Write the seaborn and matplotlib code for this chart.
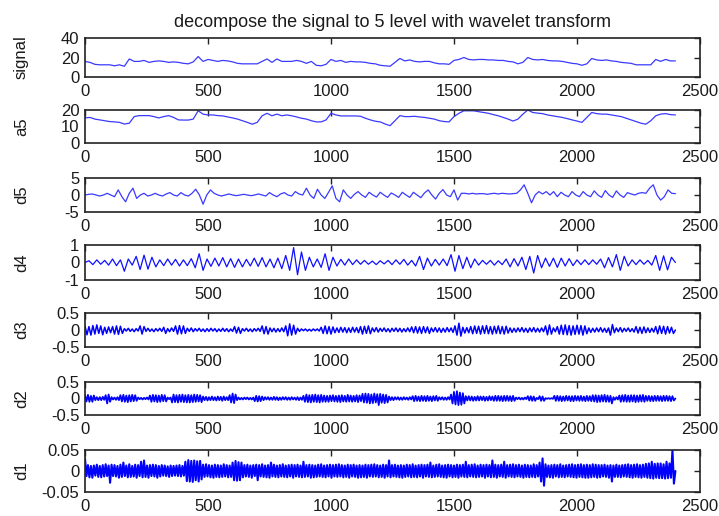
import numpy as np
import matplotlib
matplotlib.use("Agg")
import matplotlib.pyplot as plt
import seaborn as sns

sns.set_style("white")
plt.rcParams['font.family'] = ['Liberation Sans', 'DejaVu Sans']

title = "decompose the signal to 5 level with wavelet transform"
x_end = 2400
x_ticks = [0, 500, 1000, 1500, 2000, 2500]

# ---- series ----
signal_vals = [16, 15, 13, 12.5, 12.5, 12.5, 11.5, 12.5, 11, 18.5,
               16, 16, 17, 15, 16, 16.5, 16, 15, 15.5, 15,
               14, 13.5, 15.5, 21, 16, 18, 17, 16, 17, 16.5,
               15.5, 14, 13.5, 13.5, 13.5, 13.5, 16, 18.5, 15, 18.5,
               16, 16, 16, 17, 16, 14, 16, 12, 11.5, 13,
               18, 16, 17, 15, 16, 15.5, 15.5, 15, 14, 13.5,
               12, 11.5, 11, 15, 19, 16.5, 17.5, 16, 15.5, 16,
               16, 14.5, 13.5, 13.5, 13, 17, 18, 20, 18, 17.5,
               18, 18, 17.5, 17.5, 17, 17, 16, 15.5, 13.5, 15,
               20, 18, 17.5, 18, 17, 16.5, 16.5, 16, 15, 14,
               13.5, 12, 13.5, 19, 17.5, 17, 17.5, 16.5, 16, 15,
               14.5, 14, 12.5, 12.5, 12.5, 12.5, 18, 16, 18, 16.5, 16.5]

a5_vals = [15.2, 15.5, 14.5, 14, 13.5, 13, 12.8, 12.5, 11.5, 12,
           16, 16.6, 16.6, 16.6, 16, 15.2, 16, 16.6, 15.5, 14,
           13.9, 13.9, 14.5, 19.5, 17.5, 17, 17, 16.6, 16.4, 15.8,
           15.2, 14.5, 13.5, 12.5, 11.4, 12.5, 16.5, 18, 16.5, 17.5,
           16.5, 17, 16.5, 15.8, 15, 14.5, 13.5, 12.8, 12.8, 14,
           18, 17, 16.4, 16.4, 16.4, 16.4, 16.2, 15, 14, 13.2,
           12.8, 11.5, 10.5, 13.5, 16.6, 16, 16, 16.2, 15.8, 15.5,
           15, 14.5, 13.5, 13, 12.8, 16, 18, 19.5, 19.5, 19.5,
           19, 18.5, 18, 17.2, 16.5, 15.5, 14.5, 13.3, 14.5, 17.5,
           20, 18.5, 18.1, 17.8, 17, 16.5, 16, 15.5, 14.8, 14,
           13.3, 12.5, 15.5, 18.5, 17.8, 17.5, 17.5, 17, 16.5, 16,
           15, 14, 13, 12, 11.4, 13.5, 16.5, 17.5, 17.8, 17.2, 17]

d5_vals = [0, 0.2, 0.3, 0, -0.3, 0, 0.5, 0, -0.5, 1.5,
           -0.5, -2, 0.5, 2, -1, 0, 0.5, -0.3, 0, 0.5,
           0, -0.3, 0.3, 0.7, 0, -0.3, 0.7, 0, -0.3, 0.5,
           1.7, 0, -2.7, 0, 1.5, 0.5, 0, -0.3, 0, 0.3,
           0, -0.2, 0, 0.2, 0, -0.2, 0, 0.3, 0, -0.3,
           0.7, 0, -0.5, 0.3, 0.7, 0, -0.3, 1, 0.3, 0,
           2, 0, -1, 1.7, 0, -1, 0.8, 2.7, -1, -2,
           1.5, 0, -1, 0.2, 1, 0, -0.7, 0.8, 0, -0.6,
           0.8, 0, -0.7, 0.6, 0, -0.7, 0.8, 0, -0.7, 0.8,
           0, -0.8, 0.6, 1.5, 0, -1.2, 0.5, 1.6, 0, -0.5,
           1.5, -1.5, 0.5, 0.5, 0.3, 0.5, 0.3, 0.4, 0.4, 0.2,
           0.4, 0.5, 0.3, 0.5, 0.4, 0.3, 0.4, 0.5, 1.5, 3,
           0.5, -2.3, 0, 1, 0.3, 1, 0, 1, -0.5, 0.8,
           0, -0.5, 1, 0, -0.5, 1, 0, -0.5, 1.2, 0,
           -0.7, 1.3, 0, -0.7, 1.2, 0, -0.7, 0.7, 0.3, 0,
           0.5, 0.7, 0.5, 2, 3, 0, -1.5, -0.5, 1.5, 0.5, 0.4]

# d4, d3, d2 in hundredths; d1 in thousandths
d4_centi = [0, 10, -12, 15, -10, 12, -15, 20, -18, 15, -50, 20,
            -15, 35, -40, 42, -38, 30, -25, 15, -18, 20, -15, 18,
            -20, 15, -18, 22, -30, 50, -45, 20, -22, 25, -20, 28,
            -25, 22, -28, 20, -25, 18, -20, 25, -22, 28, -25, 20,
            -30, 25, -35, 40, -45, 85, -70, 60, -45, 30, -25, 20,
            -28, 50, -45, 30, -20, 18, -15, 20, -12, 15, -10, 12,
            -10, 8, -12, 10, -8, 12, -12, 15, -10, 18, -15, 12,
            -20, 35, -40, 25, -20, 18, -15, 20, -18, 45, -50, 40,
            -35, 30, -30, 20, -15, 12, -10, 12, -15, 10, -12, 20,
            -25, 22, -20, 30, -40, 35, -60, 40, -30, 25, -22, 25,
            -28, 25, -20, 22, -18, 15, -12, 15, -12, 15, -10, 20,
            -30, 28, -25, 45, -45, 35, -20, 15, -12, 15, -10, 12,
            -15, 40, -45, 38, -42, 30, 0]

d3_centi = [12, -14, 10, -15, 13, -12, 15, -10, 12, -14,
            8, -10, 9, -8, 10, -12, 12, -13, 11, -10,
            4, -3, 5, -4, 3, -5, 4, -3, 12, -12,
            10, -4, 5, -4, 3, -5, 4, -3, 5, -4,
            8, -10, 4, -5, 6, -4, 12, -12, 13, -11,
            12, -10, 5, -4, 6, -5, 4, -3, 5, -4,
            3, -5, 4, -4, 5, -3, 4, -5, 3, -4,
            5, -4, 4, -5, 3, -4, 10, -9, 8, -10,
            4, -3, 5, -4, 3, -5, 4, -3, 5, -4,
            12, -11, 10, -12, 6, -5, 5, -6, 4, -5,
            6, -5, 12, -17, 18, -15, 14, -12, 5, -4,
            3, -2, 3, -3, 2, -3, 3, -2, 3, -3,
            8, -10, 12, -11, 10, -12, 9, -8, 6, -7,
            8, -6, 7, -8, 6, -7, 8, -6, 7, -8,
            10, -12, 11, -10, 12, -11, 6, -5, 7, -6,
            5, -4, 6, -5, 4, -6, 5, -4, 6, -5,
            5, -6, 4, -5, 6, -5, 9, -8, 10, -9,
            9, -10, 10, -8, 9, -10, 6, -5, 7, -6,
            6, -7, 5, -6, 7, -5, 6, -7, 12, -15,
            20, -18, 8, -9, 7, -8, 10, -11, 12, -10,
            11, -12, 12, -10, 13, -11, 10, -12, 11, -10,
            12, -11, 10, -12, 11, -9, 6, -7, 5, -6,
            6, -5, 7, -6, 5, -7, 6, -5, 7, -6,
            5, -6, 6, -5, 12, -14, 15, -12, 6, -5,
            10, -12, 14, -13, 15, -14, 13, -15, 12, -13,
            14, -12, 13, -15, 12, -11, 6, -7, 5, -6,
            6, -5, 7, -6, 5, -7, 6, -15, 16, -8,
            6, -5, 7, -6, 5, -4, 6, -5, 4, -6,
            10, -9, 8, -10, 9, -8, 6, -7, 5, -6,
            10, -11, 12, -10, 11, -12, 10, -9, 8, -10,
            0]

d2_centi = [10, -9, 11, -10, 8, -10, 9, -5, 4, -5,
            4, -5, 5, -4, 10, -15, 12, -10, 4, -3,
            3, -4, 4, -5, 10, -9, 11, -10, 9, -11,
            10, -9, 11, -8, 10, -7, 3, -2, 2, -3,
            2, -2, 3, -3, 9, -10, 11, -9, 10, -11,
            9, -10, 11, -8, 10, -9, 3, -2, 3, -12,
            12, -11, 10, -12, 11, -10, 12, -11, 10, -12,
            11, -12, 10, -11, 12, -10, 11, -9, 10, -11,
            6, -5, 5, -6, 4, -5, 6, -5, 4, -6,
            6, -5, 5, -7, 6, -5, 4, -5, 10, -12,
            15, -14, 12, -5, 3, -3, 2, -3, 3, -2,
            3, -3, 2, -3, 3, -8, 8, -9, 7, -8,
            6, -5, 4, -3, 4, -4, 3, -4, 5, -4,
            4, -5, 3, -4, 4, -3, 4, -4, 3, -4,
            4, -3, 3, -4, 4, -5, 3, -4, 8, -10,
            12, -11, 10, -12, 11, -10, 12, -11, 10, -12,
            11, -10, 9, -10, 8, -10, 9, -8, 10, -9,
            8, -10, 9, -11, 10, -9, 8, -10, 11, -9,
            9, -10, 8, -9, 10, -11, 9, -8, 14, -12,
            15, -13, 14, -15, 12, -14, 15, -12, 13, -20,
            14, -13, 12, -14, 11, -12, 6, -5, 4, -5,
            4, -3, 4, -4, 3, -4, 4, -3, 3, -4,
            4, -3, 7, -8, 8, -7, 6, -8, 8, -7,
            7, -8, 8, -7, 6, -8, 7, -6, 8, -7,
            4, -3, 4, -4, 3, -4, 4, -3, 12, -15,
            20, -18, 22, -20, 18, -19, 16, -15, 7, -6,
            7, -6, 6, -7, 5, -6, 7, -6, 6, -5,
            6, -7, 5, -6, 7, -5, 6, -7, 8, -7,
            8, -7, 7, -8, 8, -7, 8, -7, 7, -8,
            8, -7, 3, -2, 3, -3, 2, -3, 3, -2,
            7, -6, 7, -7, 6, -7, 2, -2, 7, -7,
            6, -7, 1, -1, 1, -1, 1, -1, 8, -7,
            8, -7, 7, -8, 6, -7, 8, -6, 7, -8,
            7, -8, 8, -6, 7, -7, 8, -7, 6, -8,
            8, -7, 7, -8, 10, -9, 10, -11, 9, -10,
            10, -9, 11, -10, 9, -10, 8, -15, 4, -4,
            4, -3, 9, -10, 10, -9, 11, -10, 9, -10,
            10, -9, 10, -11, 9, -10, 10, -9, 11, -10,
            8, -7, 8, -8, 7, -8, 8, -7, 8, -7,
            7, -8, 8, -7, 8, -7, 7, -8, 7, -6,
            0]

d1_milli = [30, -12, 14, -15, 12, -16, 13, -11, 15, -14,
            12, -15, 14, -13, 16, -12, 13, -28, 15, -12,
            14, -13, 12, -16, 15, -14, 20, -12, 13, -15,
            16, -14, 12, -13, 15, -16, 14, -12, 22, -15,
            25, -14, 13, -16, 14, -12, 15, -13, 14, -16,
            12, -13, 14, -11, 13, -12, 11, -14, 13, -12,
            12, -11, 13, -12, 14, -13, 12, -11, 22, -24,
            26, -25, 24, -26, 25, -22, 23, -25, 24, -20,
            15, -14, 16, -13, 14, -15, 13, -16, 15, -14,
            14, -15, 13, -14, 16, -13, 14, -15, 13, -14,
            20, -22, 24, -23, 21, -22, 20, -15, 14, -13,
            15, -14, 13, -16, 14, -12, 15, -22, 14, -13,
            16, -14, 13, -15, 14, -16, 20, -13, 15, -14,
            13, -15, 14, -13, 16, -14, 13, -15, 14, -13,
            15, -16, 14, -13, 15, -14, 13, -15, 22, -14,
            14, -13, 15, -16, 14, -15, 13, -14, 15, -13,
            16, -14, 13, -15, 14, -13, 15, -16, 14, -13,
            15, -14, 16, -13, 14, -15, 13, -14, 15, -16,
            14, -13, 15, -14, 13, -16, 14, -15, 13, -14,
            15, -16, 14, -13, 15, -14, 16, -13, 14, -15,
            13, -14, 15, -16, 14, -13, 25, -15, 14, -13,
            15, -14, 13, -15, 14, -16, 13, -14, 15, -13,
            14, -15, 16, -14, 13, -15, 14, -13, 15, -16,
            14, -13, 15, -14, 20, -15, 13, -14, 15, -13,
            16, -14, 13, -15, 14, -16, 15, -13, 14, -15,
            13, -14, 15, -16, 14, -13, 15, -14, 22, -15,
            14, -13, 15, -14, 16, -15, 13, -14, 15, -13,
            14, -16, 15, -13, 14, -15, 25, -14, 15, -16,
            14, -13, 15, -14, 22, -16, 14, -13, 15, -14,
            16, -15, 14, -13, 15, -14, 13, -16, 15, -14,
            14, -15, 13, -14, 16, -15, 14, -13, 20, -25,
            30, -35, 16, -14, 13, -15, 14, -16, 15, -13,
            14, -15, 16, -14, 13, -15, 14, -13, 15, -14,
            16, -15, 14, -16, 15, -14, 16, -15, 14, -16,
            15, -16, 14, -15, 16, -14, 15, -16, 14, -15,
            14, -13, 15, -14, 13, -16, 14, -25, 13, -14,
            15, -14, 13, -15, 14, -13, 15, -14, 16, -15,
            14, -16, 15, -14, 16, -15, 14, -16, 15, -14,
            17, -16, 18, -17, 22, -18, 17, -16, 18, -17,
            18, -17, 16, -18, 22, -17, 18, -16, 50, -30,
            0]

labels = ["signal", "a5", "d5", "d4", "d3", "d2", "d1"]
series = [np.array(signal_vals), np.array(a5_vals), np.array(d5_vals),
          np.array(d4_centi) / 100, np.array(d3_centi) / 100,
          np.array(d2_centi) / 100, np.array(d1_milli) / 1000]
ylims = [(0, 40), (0, 20), (-5, 5), (-1, 1), (-0.5, 0.5), (-0.5, 0.5), (-0.05, 0.05)]
yticks = [[0, 20, 40], [0, 10, 20], [-5, 0, 5], [-1, 0, 1],
          [-0.5, 0, 0.5], [-0.5, 0, 0.5], [-0.05, 0, 0.05]]
yticklabels = [["0", "20", "40"], ["0", "10", "20"], ["-5", "0", "5"], ["-1", "0", "1"],
               ["-0.5", "0", "0.5"], ["-0.5", "0", "0.5"], ["-0.05", "0", "0.05"]]
lws = [0.9, 0.9, 0.9, 0.9, 1.1, 1.3, 1.5]
colors = ["#3a3aff", "#3a3aff", "#3a3aff", "#1010ff", "#0000ff", "#0000ff", "#0000ff"]

# layout (pixels)
W, H = 719, 516
left_px, right_px = 85, 700
rows_px = [(38, 77), (110, 143), (178, 212), (245, 280), (313, 347), (382, 415), (450, 492)]

fig = plt.figure(figsize=(W / 100, H / 100), dpi=100)
fig.patch.set_facecolor("white")
txt = "#1a1a1a"

for i, (lab, y, ylim, yt, ytl, (t, b)) in enumerate(zip(labels, series, ylims, yticks,
                                                        yticklabels, rows_px)):
    ax = fig.add_axes([left_px / W, 1 - b / H, (right_px - left_px) / W, (b - t) / H])
    x = np.linspace(0, x_end, len(y))
    sns.lineplot(x=x, y=y, ax=ax, color=colors[i], linewidth=lws[i],
                 estimator=None, sort=False)
    ax.set_xlim(0, 2500)
    ax.set_ylim(*ylim)
    ax.set_xticks(x_ticks)
    ax.set_xticklabels([str(v) for v in x_ticks])
    ax.set_yticks(yt)
    ax.set_yticklabels(ytl)
    ax.tick_params(direction="in", length=4, width=1, color="#222222",
                   top=True, right=True, labelsize=12, labelcolor=txt)
    ax.tick_params(axis="x", pad=5)
    ax.tick_params(axis="y", pad=4)
    for s in ax.spines.values():
        s.set_visible(True)
        s.set_color("#222222")
        s.set_linewidth(1.2)
    ax.set_xlabel("")
    ax.set_ylabel(lab, fontsize=12, color=txt)
    ax.yaxis.set_label_coords(-0.091, 0.5)
    ax.set_facecolor("white")
    if i == 0:
        ax.set_title(title, fontsize=13, color=txt, pad=8)

fig.savefig("out.png", dpi=100, facecolor="white")
